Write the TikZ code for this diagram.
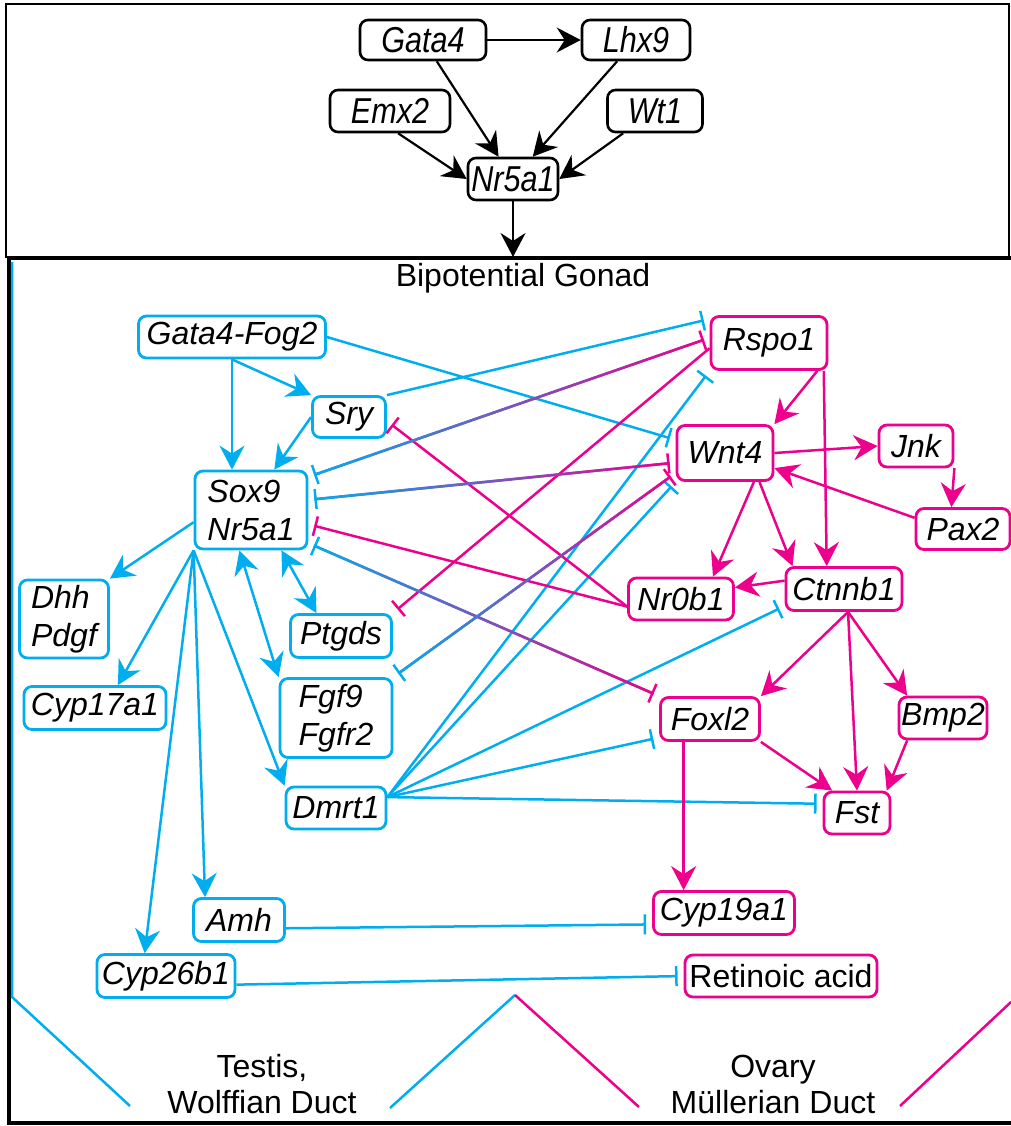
\documentclass[tikz,border=0pt]{standalone}
\usepackage{fontspec}
\setmainfont{Liberation Sans}
\newfontfamily\narrowsans[FakeStretch=0.85]{Liberation Sans}
\usetikzlibrary{arrows.meta,calc}
\definecolor{tblue}{RGB}{0,174,239}
\definecolor{tpink}{RGB}{236,0,140}
\tikzstyle{gene}=[rounded corners=4pt, line width=1.4pt, inner sep=0pt, align=left, font=\fontsize{16}{19}\selectfont\itshape]
\tikzstyle{malegene}=[gene, draw=tblue]
\tikzstyle{femgene}=[gene, draw=tpink]
\tikzstyle{topgene}=[gene, draw=black, line width=1.3pt, font=\fontsize{18}{21}\selectfont\narrowsans\itshape]
\tikzstyle{edge}=[draw, line width=1.25pt]
\tikzstyle{act}=[-{Stealth[length=12pt,width=12.5pt,inset=4pt]}]
\tikzstyle{both}=[{Stealth[length=12pt,width=12.5pt,inset=4pt]}-{Stealth[length=12pt,width=12.5pt,inset=4pt]}]
\tikzstyle{inh}=[-{Bar[width=10pt]}, shorten >=3pt]
\tikzstyle{caption}=[font=\fontsize{16}{18}\selectfont, align=center]

\begin{document}
\begin{tikzpicture}[x=0.5pt, y=-0.5pt]
    \useasboundingbox (0,0) rectangle (1011,1126);

    % frames
    \draw[line width=1pt] (6,4) rectangle (1009,257);
    \draw[line width=1.6pt] (1011,258) -- (9,258) -- (9,1123) -- (1011,1123);

    % upstream genes
    \foreach \pos/\name/\w/\h/\txt in {{(423,40)/gata4/63/20/Gata4}, {(636,40)/lhx9/54/20/Lhx9},
        {(390,111)/emx2/60/21/Emx2}, {(655,111)/wt1/47.5/21/Wt1}, {(513,179)/nr5a1/45/21/Nr5a1}}
        \node[topgene, minimum width=\w pt, minimum height=\h pt] (\name) at \pos {\txt};
    \coordinate (gonadtop) at (513,257);

    \foreach \source/\dest in {gata4.east/lhx9.west, gata4/nr5a1, lhx9/nr5a1, emx2.-70/nr5a1.west,
        wt1.-145/nr5a1.east, nr5a1.south/gonadtop}
        \path[edge, act, line width=1.1pt] (\source) -- (\dest);

    \node[caption] (gonad) at (523,278) {Bipotential Gonad};

    % testis side
    \foreach \pos/\name/\w/\h/\txt in {{(232,337)/gfog/93.5/21/Gata4-Fog2}, {(349,417)/sry/36.5/20.5/Sry},
        {(251,510)/sox9/56/39/{Sox9\\Nr5a1}}, {(64,619)/dhh/44.5/39/{Dhh\\Pdgf}},
        {(341,636)/ptgds/50.5/21.5/Ptgds}, {(95,708)/cyp17/71/21.5/Cyp17a1},
        {(336,718)/fgf9/56/39.5/{Fgf9\\Fgfr2}}, {(336,808)/dmrt1/50/21/Dmrt1},
        {(239,920)/amh/45.5/21.5/Amh}, {(166,976)/cyp26/69/21.5/Cyp26b1}}
        \node[malegene, minimum width=\w pt, minimum height=\h pt] (\name) at \pos {\txt};

    % ovary side
    \foreach \pos/\name/\w/\h/\txt in {{(769,343)/rspo1/58/26.5/Rspo1}, {(725,453)/wnt4/48/27.5/Wnt4},
        {(916,446)/jnk/37/21/Jnk}, {(963,529)/pax2/47/20.5/Pax2},
        {(681,599)/nr0b1/52.5/21/Nr0b1}, {(844,589)/ctnnb1/58/21.5/Ctnnb1},
        {(710,719)/foxl2/49.5/21.5/Foxl2}, {(943,718)/bmp2/44/21/Bmp2},
        {(857,813)/fst/33/21/Fst}, {(724,913)/cyp19/70.5/21.5/Cyp19a1},
        {(781,976)/ra/96/21/{\upshape Retinoic acid}}}
        \node[femgene, minimum width=\w pt, minimum height=\h pt] (\name) at \pos {\txt};

    % activation, testis
    \path[edge, act, tblue] (gfog.south) -- (gfog.south |- sox9.north);
    \foreach \source/\dest in {gfog.south/sry.north west, sry.west/sox9.60, sox9.-168/dhh.north east,
        sox9.south west/cyp17.45, sox9.south west/cyp26.133, sox9.south west/amh.146,
        sox9.south west/dmrt1.north west}
        \path[edge, act, tblue] (\source) -- (\dest);
    \foreach \source/\dest in {sox9.-106/fgf9.north west, sox9.-53/ptgds.137}
        \path[edge, both, tblue] (\source) -- (\dest);

    % repression by testis genes
    \foreach \source/\dest in {gfog.east/wnt4.165, sry.north east/rspo1.158, dmrt1.12/rspo1.south west,
        dmrt1.12/wnt4.south west, dmrt1.12/ctnnb1.-164, dmrt1.12/foxl2.-160, dmrt1.12/fst.165,
        amh.-10/cyp19.-171, cyp26.-7/ra.west}
        \path[edge, inh, tblue] (\source) -- (\dest);

    % activation, ovary
    \foreach \source/\dest in {rspo1.-30/wnt4.north east, rspo1.-27/ctnnb1.127, wnt4.east/jnk.west,
        jnk.-30/pax2.118, pax2.167/wnt4.-17, wnt4.-45/nr0b1.35, wnt4.-40/ctnnb1.156,
        ctnnb1.172/nr0b1.12, ctnnb1.-80/foxl2.north east, ctnnb1.-80/fst.north,
        ctnnb1.-80/bmp2.148, foxl2.south east/fst.138, bmp2.-148/fst.37}
        \path[edge, act, tpink] (\source) -- (\dest);
    \path[edge, act, tpink] (foxl2.-139) -- (foxl2.-139 |- cyp19.north);

    % repression by ovary genes
    \foreach \source/\dest in {nr0b1.-172/sry.-6, nr0b1.-172/sox9.-14, rspo1.185/ptgds.north east}
        \path[edge, inh, tpink] (\source) -- (\dest);

    % mutual repression, blue to pink
    \foreach \a/\b in {sox9.30/rspo1.175, sox9.10/wnt4.-169, sox9.-30/foxl2.north west,
        fgf9.north east/wnt4.-158} {
        \coordinate (gs) at ($(\a)!3pt!(\b)$);
        \coordinate (ge) at ($(\b)!3pt!(\a)$);
        \path[edge, tblue!50!tpink, {Bar[width=10pt,color=tblue]}-{Bar[width=10pt,color=tpink]}] (gs) -- (ge);
        \foreach \i in {1,...,20} {
            \pgfmathsetmacro\s{(\i-1)/20}
            \pgfmathsetmacro\e{\i/20}
            \pgfmathtruncatemacro\p{102-5*\i}
            \path[edge, tblue!\p!tpink] ($(gs)!\s!(ge)$) -- ($(gs)!\e!(ge)$);
        }
    }

    % ducts
    \draw[tblue, line width=1.25pt] (12,262) -- (12,997) -- (130,1106);
    \draw[tblue, line width=1.25pt] (390,1108) -- (515,995);
    \draw[tpink, line width=1.25pt] (515,995) -- (639,1107);
    \draw[tpink, line width=1.25pt] (900,1106) -- (1011,1002);

    \node[caption] (testis) at (262,1084) {Testis,\\Wolffian Duct};
    \node[caption] (ovary) at (773,1084) {Ovary\\Müllerian Duct};

\end{tikzpicture}
\end{document}
